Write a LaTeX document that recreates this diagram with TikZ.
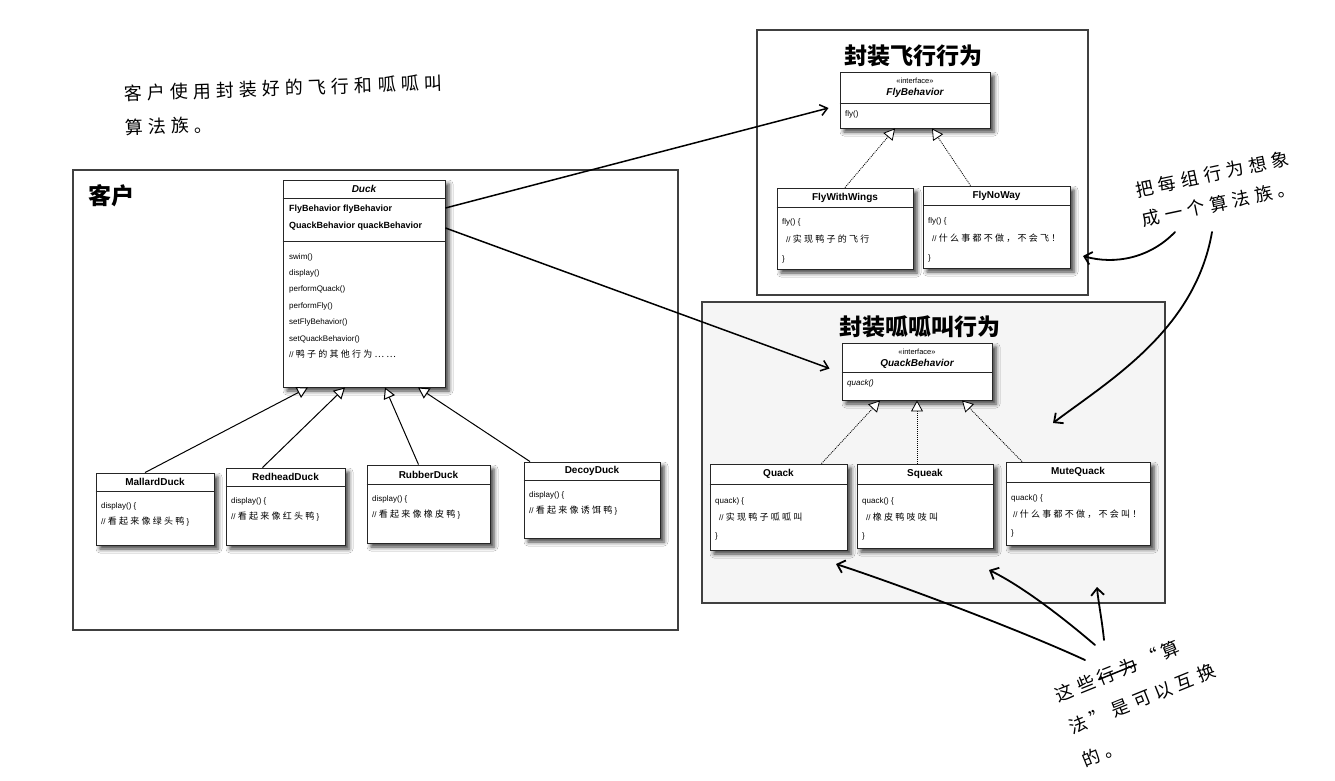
\documentclass[tikz,border=0pt]{standalone}
\usepackage{fontspec}
\setmainfont{Liberation Sans}
\newfontfamily\cjk{Noto Sans CJK SC}
\newfontfamily\cjknote{Noto Sans CJK SC}[LetterSpace=25]
\newfontfamily\handfont{Noto Sans CJK SC}[LetterSpace=28]
\usepackage{tikz}
\usetikzlibrary{positioning, arrows.meta, fit, shadows.blur}

% Chinese comment text inside the class boxes
\newcommand{\cmt}[1]{{\cjknote\fontsize{9}{9}\selectfont #1}}
% crossed-out words in the handwritten note
\newlength{\strikelen}
\newcommand{\strikeout}[1]{\settowidth{\strikelen}{#1}\rlap{\rule[0.3em]{\strikelen}{1.5pt}}#1}

\begin{document}
\begin{tikzpicture}[x=1pt, y=-1pt,
    groupbox/.style={draw=black!75, line width=1.5pt, inner sep=0pt},
    grouptitle/.style={font=\cjk\bfseries\fontsize{23}{23}\selectfont, inner sep=0pt},
    classbox/.style={draw=black!85, line width=0.9pt, fill=white, inner sep=0pt,
      blur shadow={shadow xshift=4pt, shadow yshift=-4pt,
        shadow blur radius=4pt, shadow opacity=75}},
    sepline/.style={draw=black!85, line width=0.6pt},
    classname/.style={font=\bfseries\fontsize{10}{11}\selectfont, inner sep=0pt},
    stereo/.style={font=\fontsize{7.5}{8}\selectfont, inner sep=0pt},
    members/.style={font=\fontsize{8}{#1}\selectfont, align=left,
      anchor=north west, inner sep=0pt},
    members/.default=18,
    handnote/.style={font=\handfont\fontsize{18}{#1}\selectfont, align=left,
      anchor=north west, inner sep=0pt},
    handnote/.default=33,
    assoc/.style={line width=1.5pt, -{Straight Barb[length=7pt, width=11pt]}},
    inherit/.style={line width=1pt, -{Triangle[fill=white, length=11pt, width=12pt]}},
    realize/.style={inherit, densely dotted, line width=0.8pt},
    handarrow/.style={line width=1.8pt, line cap=round,
      -{Straight Barb[length=7pt, width=13pt]}},
  ]
  \useasboundingbox[fill=white] (0,0) rectangle (1335,780);

  % Groups: client, fly family, quack family
  \node[groupbox, fit={(73,170) (678,630)}] (client) {};
  \node[groupbox, fit={(757,30) (1088,295)}] (flygroup) {};
  \node[groupbox, fill=black!4, fit={(702,302) (1165,603)}] (quackgroup) {};
  \node[grouptitle, anchor=west] (clienttitle) at (88,196) {客户};
  \node[grouptitle] (flytitle) at (913,56) {封装飞行行为};
  \node[grouptitle] (quacktitle) at (920,327) {封装呱呱叫行为};

  % Class boxes
  \node[classbox, fit={(283,180) (445,387)}] (duck) {};
  \node[classbox, fit={(840,72) (990,128)}] (flyif) {};
  \node[classbox, fit={(777,188) (913,269)}] (flywings) {};
  \node[classbox, fit={(923,186) (1070,268)}] (flynoway) {};
  \node[classbox, fit={(842,343) (992,400)}] (quackif) {};
  \node[classbox, fit={(710,464) (847,550)}] (quack) {};
  \node[classbox, fit={(857,464) (993,548)}] (squeak) {};
  \node[classbox, fit={(1006,462) (1150,545)}] (mutequack) {};
  \node[classbox, fit={(96,473) (214,545)}] (mallard) {};
  \node[classbox, fit={(226,468) (345,545)}] (redhead) {};
  \node[classbox, fit={(367,465) (490,543)}] (rubber) {};
  \node[classbox, fit={(524,462) (660,538)}] (decoy) {};

  % Compartment lines
  \foreach \c/\y in {duck/198, duck/241, flyif/103, flywings/207, flynoway/205,
      quackif/372, quack/484, squeak/484, mutequack/482,
      mallard/491, redhead/486, rubber/484, decoy/480}
    \draw[sepline] (\c.west |- 0,\y) -- (\c.east |- 0,\y);

  % Class names
  \foreach \c/\y/\t in {flywings/197.5/FlyWithWings, flynoway/195.5/FlyNoWay,
      quack/474/Quack, squeak/474/Squeak, mutequack/472/MuteQuack,
      mallard/482/MallardDuck, redhead/477/RedheadDuck,
      rubber/474.5/RubberDuck, decoy/471/DecoyDuck}
    \node[classname] (\c-name) at (\c.north |- 0,\y) {\t};
  \node[classname] (duck-name) at (duck.north |- 0,189) {\itshape Duck};
  \node[stereo] (flyif-stereo) at (flyif.north |- 0,80.5) {<<interface>>};
  \node[classname] (flyif-name) at (flyif.north |- 0,93) {\itshape FlyBehavior};
  \node[stereo] (quackif-stereo) at (quackif.north |- 0,351.5) {<<interface>>};
  \node[classname] (quackif-name) at (quackif.north |- 0,363.5) {\itshape QuackBehavior};

  % Members
  \node[members=17, font=\bfseries\fontsize{9}{17}\selectfont] (duck-attr) at (289,205)
    {FlyBehavior flyBehavior\\QuackBehavior quackBehavior};
  \node[members=16.4] (duck-ops) at (289,253)
    {swim()\\display()\\performQuack()\\performFly()\\setFlyBehavior()\\setQuackBehavior()\\// \cmt{鸭子的其他行为……}};
  \node[members] (flyif-ops) at (845,110) {fly()};
  \node[members] (quackif-ops) at (847,379) {\itshape quack()};
  \node[members=18.5] (flywings-body) at (782,218) {fly() \{\\\hspace{4pt}// \cmt{实现鸭子的飞行}\\\}};
  \node[members=18.5] (flynoway-body) at (928,217) {fly() \{\\\hspace{4pt}// \cmt{什么事都不做，不会飞！}\\\}};
  \node[members=17.5] (quack-body) at (715,497) {quack) \{\\\hspace{4pt}// \cmt{实现鸭子呱呱叫}\\\}};
  \node[members=17.5] (squeak-body) at (862,497) {quack() \{\\\hspace{4pt}// \cmt{橡皮鸭吱吱叫}\\\}};
  \node[members=17.5] (mutequack-body) at (1011,494) {quack() \{\\\hspace{2pt}// \cmt{什么事都不做，不会叫！}\\\}};
  \node[members=16.5] (mallard-body) at (101,502) {display() \{\\// \cmt{看起来像绿头鸭} \}};
  \node[members=16.5] (redhead-body) at (231,497) {display() \{\\// \cmt{看起来像红头鸭} \}};
  \node[members=16.5] (rubber-body) at (372,495) {display() \{\\// \cmt{看起来像橡皮鸭} \}};
  \node[members=16.5] (decoy-body) at (529,491) {display() \{\\// \cmt{看起来像诱饵鸭} \}};

  % Duck has-a behaviours
  \draw[assoc] (duck.east |- 0,208) -- ([xshift=-11pt, yshift=-8pt]flyif.west);
  \draw[assoc] (duck.east |- 0,228) -- ([xshift=-12pt, yshift=3pt]quackif.west);

  % Implementations of the interfaces
  \draw[realize] (flywings.north) -- ([xshift=-20pt]flyif.south);
  \draw[realize] ([xshift=-26pt]flynoway.north) -- ([xshift=17pt]flyif.south);
  \draw[realize] ([xshift=43pt]quack.north) -- ([xshift=-37pt]quackif.south);
  \draw[realize] ([xshift=-8pt]squeak.north) -- (quackif.south);
  \draw[realize] ([xshift=-56pt]mutequack.north) -- ([xshift=45pt]quackif.south);

  % Duck subclasses
  \draw[inherit] ([xshift=-10pt]mallard.north) -- ([xshift=-56pt]duck.south);
  \draw[inherit] ([xshift=-23pt]redhead.north) -- ([xshift=-19pt]duck.south);
  \draw[inherit] ([xshift=-10pt]rubber.north) -- ([xshift=21pt]duck.south);
  \draw[inherit] ([xshift=-62pt]decoy.north) -- ([xshift=54pt]duck.south);

  % Handwritten notes
  \node[handnote=34, rotate=2] (clientnote) at (124,85) {客户使用封装好的飞行和呱呱叫\\算法族。};
  \node[handnote=30, rotate=12] (famnote) at (1134,182) {把每组行为想象\\成一个算法族。};
  \node[handnote=35, rotate=22] (swapnote) at (1053,688)
    {这些\hspace{4pt}\strikeout{行为}\hspace{6pt}“\hspace{4pt}算\\法”是可以互换\\的。};

  % Handwritten arrows
  \coordinate (famfrom1) at (1175,232);
  \coordinate (famto1) at (1083,256);
  \draw[handarrow] (famfrom1) .. controls (1150,258) and (1115,265) .. (famto1);
  \coordinate (famfrom2) at (1212,232);
  \coordinate (famto2) at (1053,423);
  \draw[handarrow] (famfrom2) .. controls (1195,330) and (1110,380) .. (famto2);
  \coordinate (swapfrom1) at (1085,660);
  \coordinate (swapto1) at (836,564);
  \draw[handarrow] (swapfrom1) .. controls (1020,630) and (900,585) .. (swapto1);
  \coordinate (swapfrom2) at (1095,645);
  \coordinate (swapto2) at (989,570);
  \draw[handarrow] (swapfrom2) .. controls (1060,615) and (1020,585) .. (swapto2);
  \coordinate (swapfrom3) at (1104,640);
  \coordinate (swapto3) at (1097,587);
  \draw[handarrow] (swapfrom3) .. controls (1102,620) and (1098,600) .. (swapto3);
\end{tikzpicture}
\end{document}
